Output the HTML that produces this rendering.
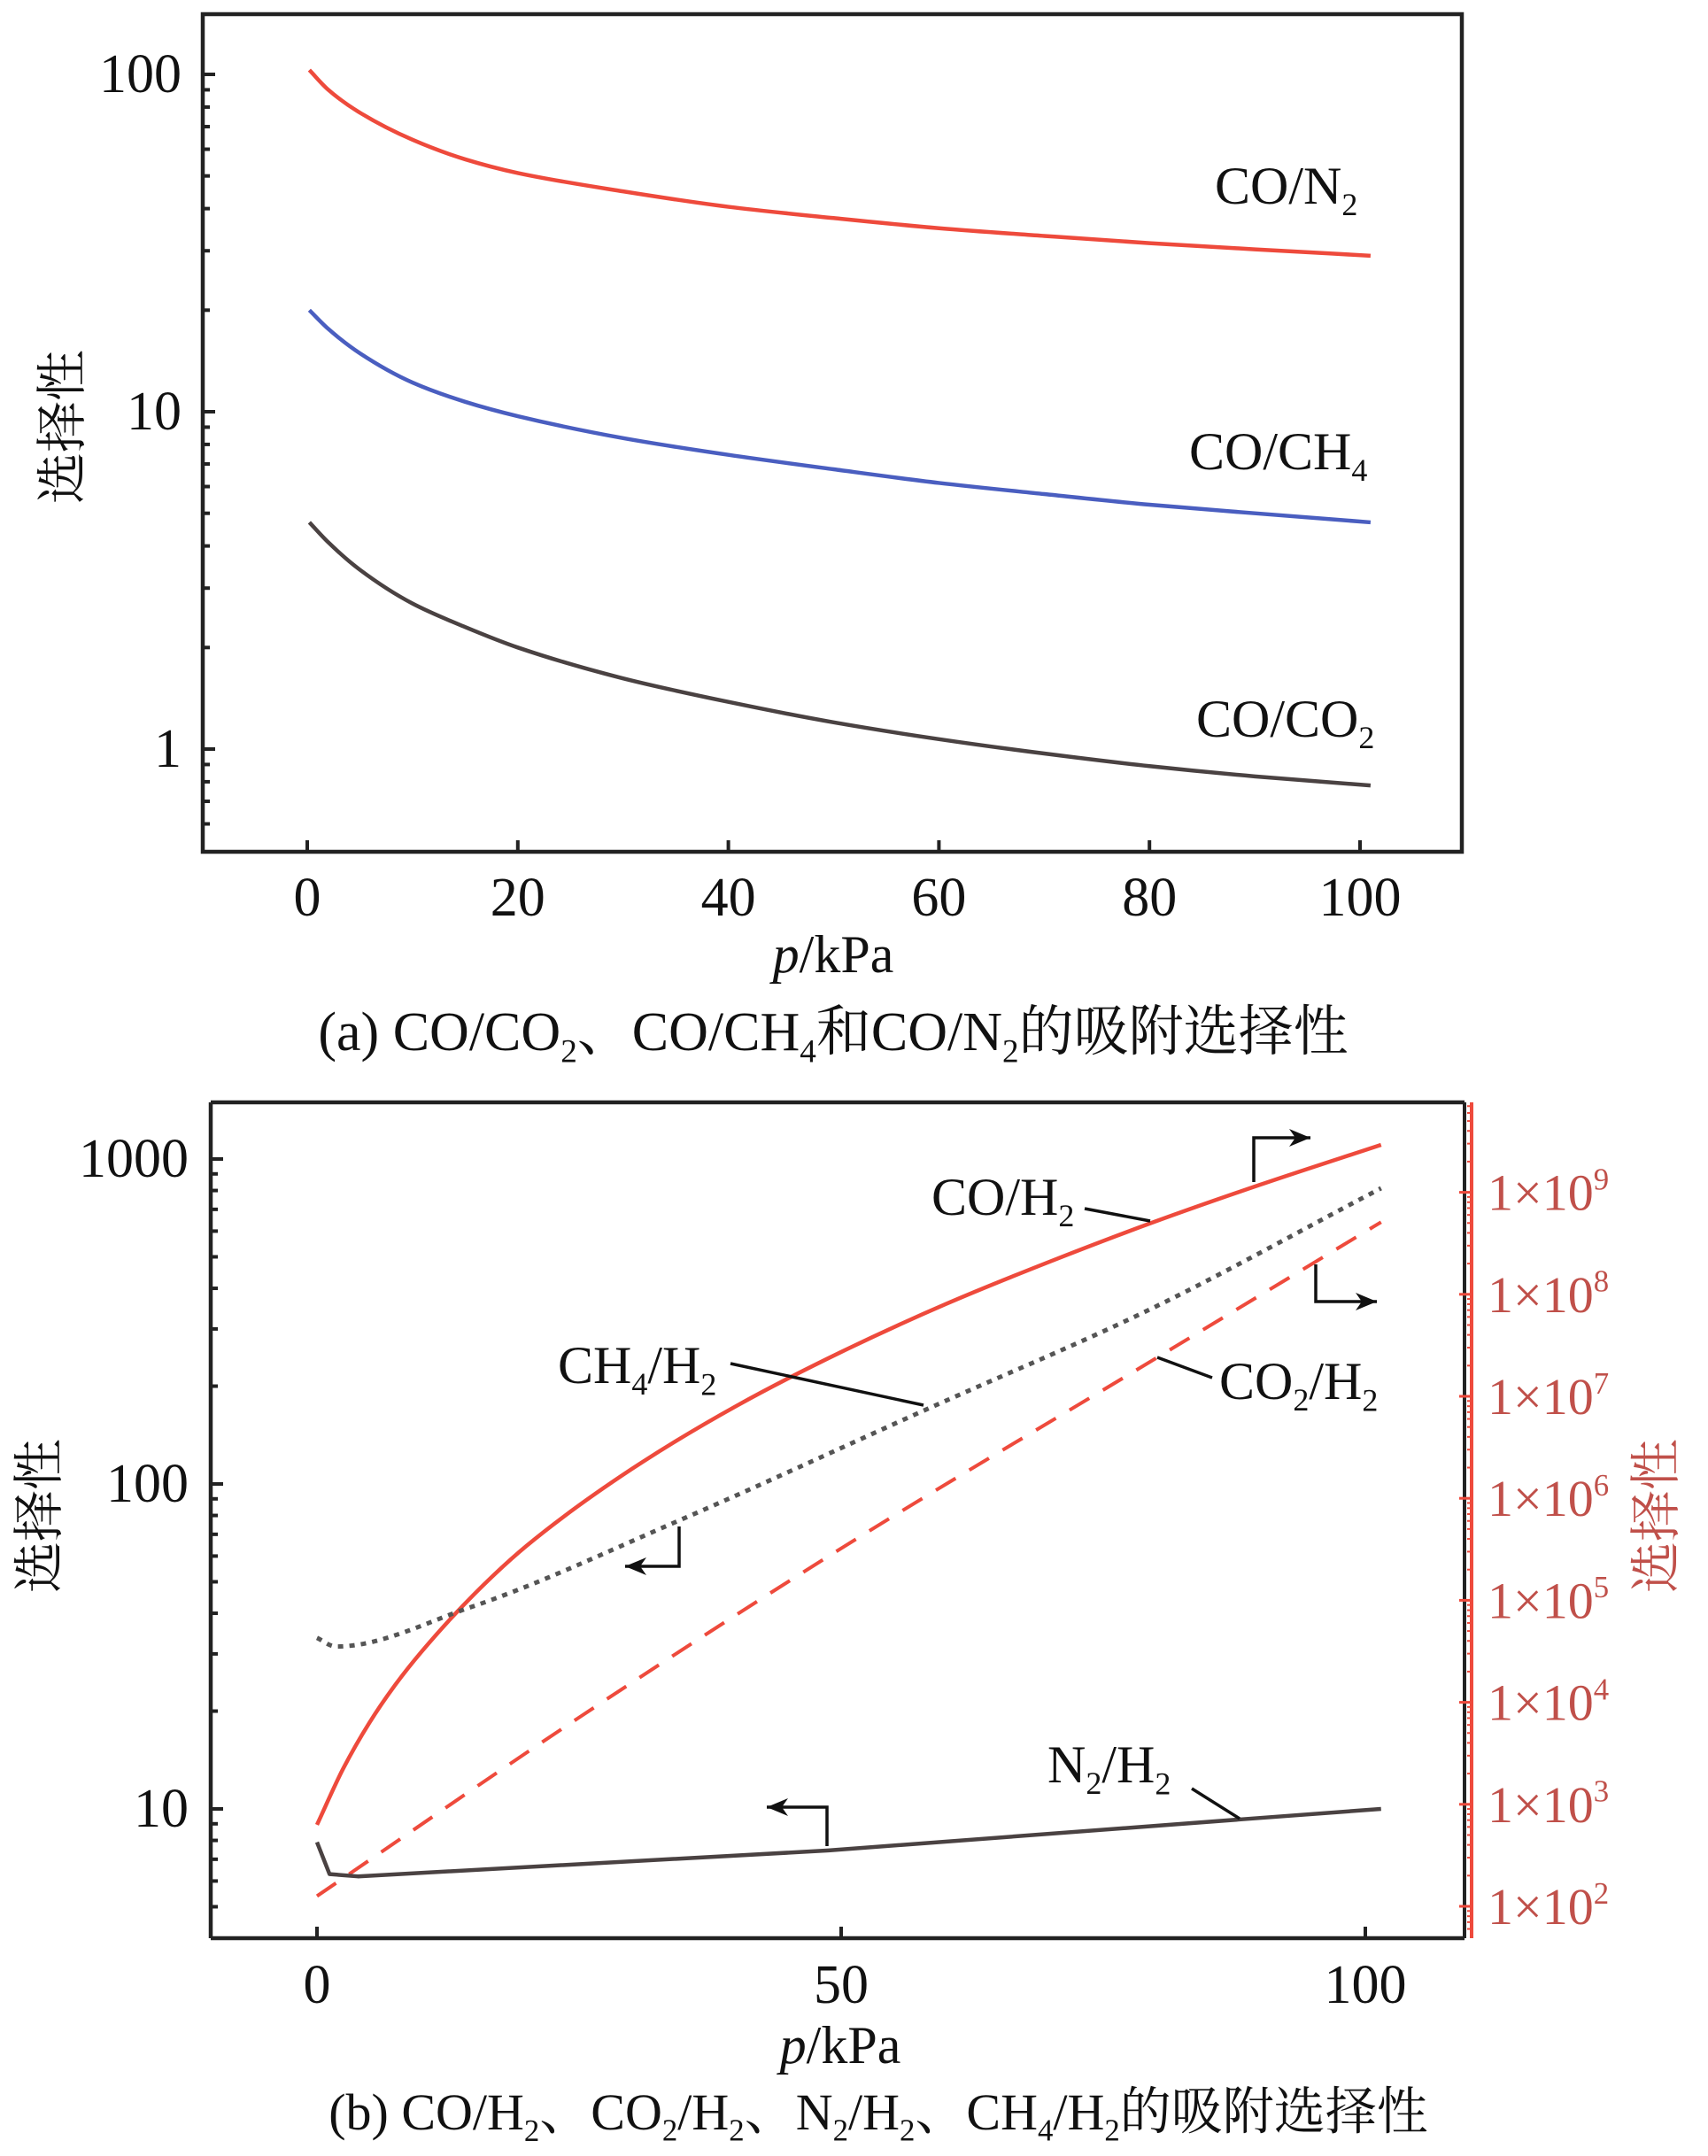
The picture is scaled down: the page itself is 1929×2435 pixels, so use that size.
<!DOCTYPE html>
<html><head><meta charset="utf-8"><style>
html,body{margin:0;padding:0;background:#fff}
svg{display:block}
text{font-family:"Liberation Serif","Noto Serif CJK SC","Noto Sans CJK SC",serif}
</style></head><body>
<svg id="chart" width="1929" height="2435" viewBox="0 0 1929 2435">
<g id="gA"></g>
<g id="gB"></g>
</svg>
<script>
// ---------- Panel (a) data ----------
const aX = [0.2, 2, 5, 10, 15, 20, 30, 40, 50, 60, 70, 80, 90, 101];
const coN2 = [103, 90, 77, 64, 56, 51, 45, 40.5, 37.5, 35, 33.2, 31.6, 30.3, 29];
const coCH4 = [20, 17.6, 14.9, 12.2, 10.7, 9.7, 8.35, 7.45, 6.75, 6.15, 5.7, 5.3, 5.0, 4.7];
const coCO2 = [4.7, 4.1, 3.4, 2.7, 2.3, 2.0, 1.62, 1.38, 1.2, 1.07, 0.97, 0.89, 0.83, 0.78];
const aXTicks = [0, 20, 40, 60, 80, 100];
const aYTicks = [1, 10, 100];

// ---------- Panel (b) data ----------
const coH2X = [0, 2.5, 5, 7.5, 10, 15, 20, 30, 40, 50, 60, 70, 80, 90, 101.5];
const coH2 = [6.3e2, 2.24e3, 6.31e3, 1.5e4, 3.16e4, 1.15e5, 3.43e5, 1.93e6, 8.04e6, 2.72e7, 8.04e7, 2.11e8, 5.19e8, 1.19e9, 2.92e9];
const co2H2X = [0, 25, 49.5, 80.7, 101.5];
const co2H2 = [1.26e2, 7.1e3, 3.0e5, 2.6e7, 5.1e8];
const ch4H2X = [0, 1.8, 14.6, 34.7, 58.2, 79, 101.5];
const ch4H2 = [33.6, 31.6, 41.7, 77.6, 170, 339, 813];
const n2H2X = [0, 1.2, 3.9, 48.8, 88.4, 101.5];
const n2H2 = [7.9, 6.3, 6.2, 7.45, 9.3, 10];
const bXTicks = [0, 50, 100];
const bYTicks = [10, 100, 1000];
const bRTicks = [2, 3, 4, 5, 6, 7, 8, 9];

const NS = "http://www.w3.org/2000/svg";
function mk(parent, tag, attrs, name, txt) {
  const e = document.createElementNS(NS, tag);
  for (const k in attrs) e.setAttribute(k, attrs[k]);
  
  
  if (txt !== undefined) e.textContent = txt;
  parent.appendChild(e);
  return e;
}
function pathFrom(xs, ys, sx, sy) {
  const P = xs.map((x, i) => [sx(x), sy(ys[i])]);
  const n = P.length;
  const d = [], m = new Array(n);
  for (let i = 0; i < n - 1; i++) d.push((P[i + 1][1] - P[i][1]) / (P[i + 1][0] - P[i][0]));
  m[0] = d[0]; m[n - 1] = d[n - 2];
  for (let i = 1; i < n - 1; i++) {
    if (d[i - 1] * d[i] <= 0) m[i] = 0;
    else { const h0 = P[i][0] - P[i - 1][0], h1 = P[i + 1][0] - P[i][0];
      m[i] = 3 * (h0 + h1) / ((2 * h1 + h0) / d[i - 1] + (h1 + 2 * h0) / d[i]); }
  }
  let s = `M${P[0][0]},${P[0][1]}`;
  for (let i = 0; i < n - 1; i++) {
    const h = P[i + 1][0] - P[i][0];
    s += ` C${P[i][0] + h / 3},${P[i][1] + m[i] * h / 3} ${P[i + 1][0] - h / 3},${P[i + 1][1] - m[i + 1] * h / 3} ${P[i + 1][0]},${P[i + 1][1]}`;
  }
  return s;
}
function linePath(xs, ys, sx, sy) {
  return xs.map((x, i) => (i ? 'L' : 'M') + sx(x) + ',' + sy(ys[i])).join(' ');
}
function sub(parent, x, y, parts, size, name, anchor, fill) {
  const t = mk(parent, 'text', {x: x, y: y, 'font-size': size, 'text-anchor': anchor || 'start'}, name);
  t.style.fill = fill || '#111';
  parts.forEach(pt => {
    const s = document.createElementNS(NS, 'tspan');
    if (pt[1] === 'sub') { s.setAttribute('font-size', size * 0.6); s.setAttribute('dy', size * 0.22); }
    else if (pt[1] === 'sup') { s.setAttribute('font-size', size * 0.6); s.setAttribute('dy', -size * 0.4); }
    else if (pt[1] === 'back') { s.setAttribute('dy', pt[2]); }
    else if (pt[1] === 'it') { s.setAttribute('font-style', 'italic'); }
    s.textContent = pt[0];
    t.appendChild(s);
  });
  return t;
}
const RED = '#ee4a3c', BLUE = '#4a5ec0', DARK = '#4a4242', TRED = '#c0504a';

// ===== Panel A =====
(function () {
  const g = document.getElementById('gA');
  const L = 229, R = 1651, T = 16, B = 962;
  const sx = v => 347 + (v - 0) * (1536 - 347) / 100;
  const sy = v => 846 - Math.log10(v) * 381;
  mk(g, 'rect', {x: L, y: T, width: R - L, height: B - T, fill: 'none', stroke: '#222', 'stroke-width': 4.5}, 'plot-frame-a');
  aXTicks.forEach(v => {
    mk(g, 'line', {x1: sx(v), x2: sx(v), y1: B, y2: B - 13, stroke: '#222', 'stroke-width': 4}, 'x-tick-a');
    mk(g, 'text', {x: sx(v), y: 1034, 'font-size': 62, 'text-anchor': 'middle', fill: '#111'}, 'x-tick-label-a', String(v));
  });
  for (let d = -1; d <= 2; d++) for (let m = 1; m <= 9; m++) {
    const v = m * Math.pow(10, d), y = sy(v);
    if (y < T + 2 || y > B - 2) continue;
    mk(g, 'line', {x1: L, x2: L + (m === 1 ? 14 : 8), y1: y, y2: y, stroke: '#222', 'stroke-width': 4}, 'y-tick-a');
  }
  aYTicks.forEach(v => mk(g, 'text', {x: 205, y: sy(v) + 20, 'font-size': 62, 'text-anchor': 'end', fill: '#111'}, 'y-tick-label-a', String(v)));
  mk(g, 'path', {d: pathFrom(aX, coN2, sx, sy), fill: 'none', stroke: RED, 'stroke-width': 4.5}, 'co-n2-line');
  mk(g, 'path', {d: pathFrom(aX, coCH4, sx, sy), fill: 'none', stroke: BLUE, 'stroke-width': 4.5}, 'co-ch4-line');
  mk(g, 'path', {d: pathFrom(aX, coCO2, sx, sy), fill: 'none', stroke: DARK, 'stroke-width': 4.5}, 'co-co2-line');
  sub(g, 1372, 230, [['CO/N'], ['2', 'sub']], 60, 'co-n2-label');
  sub(g, 1343, 530, [['CO/CH'], ['4', 'sub']], 60, 'co-ch4-label');
  sub(g, 1351, 832, [['CO/CO'], ['2', 'sub']], 60, 'co-co2-label');
  mk(g, 'text', {x: 90, y: 482, 'font-size': 58, 'text-anchor': 'middle', fill: '#111', transform: 'rotate(-90 90 482)'}, 'y-axis-title-a', '选择性');
  sub(g, 941, 1098, [['p', 'it'], ['/kPa']], 60, 'x-axis-title-a', 'middle');
  sub(g, 941, 1186, [['(a) CO/CO'], ['2', 'sub'], ['、CO/CH', 'back', -13.6], ['4', 'sub'], ['和CO/N', 'back', -13.6], ['2', 'sub'], ['的吸附选择性', 'back', -13.6]], 62, 'caption-a', 'middle');
})();

// ===== Panel B =====
(function () {
  const g = document.getElementById('gB');
  const L = 238, R = 1654, T = 1245, B = 2189;
  const sx = v => 358 + v * (1542 - 358) / 100;
  const sy = v => 2043 - (Math.log10(v) - 1) * 367;
  const syR = v => 2153 - (Math.log10(v) - 2) * 115.2;
  mk(g, 'line', {x1: L, x2: R, y1: T, y2: T, stroke: '#222', 'stroke-width': 4.5}, 'frame-top-b');
  mk(g, 'line', {x1: L, x2: R, y1: B, y2: B, stroke: '#222', 'stroke-width': 4.5}, 'frame-bottom-b');
  mk(g, 'line', {x1: L, x2: L, y1: T, y2: B, stroke: '#222', 'stroke-width': 4.5}, 'left-axis-b');
  mk(g, 'line', {x1: R, x2: R, y1: T, y2: B, stroke: '#222', 'stroke-width': 4}, 'frame-right-b');
  mk(g, 'line', {x1: 1662, x2: 1662, y1: T, y2: B, stroke: RED, 'stroke-width': 4}, 'right-axis-b');
  bXTicks.forEach(v => {
    mk(g, 'line', {x1: sx(v), x2: sx(v), y1: B, y2: B - 13, stroke: '#222', 'stroke-width': 4}, 'x-tick-b');
    mk(g, 'text', {x: sx(v), y: 2262, 'font-size': 62, 'text-anchor': 'middle', fill: '#111'}, 'x-tick-label-b', String(v));
  });
  for (let d = 0; d <= 3; d++) for (let m = 1; m <= 9; m++) {
    const v = m * Math.pow(10, d), y = sy(v);
    if (y < T + 2 || y > B - 2) continue;
    mk(g, 'line', {x1: L, x2: L + (m === 1 ? 14 : 8), y1: y, y2: y, stroke: '#222', 'stroke-width': 4}, 'y-tick-b');
  }
  bYTicks.forEach(v => mk(g, 'text', {x: 213, y: sy(v) + 20, 'font-size': 62, 'text-anchor': 'end', fill: '#111'}, 'y-tick-label-b', String(v)));
  for (let d = 1; d <= 9; d++) for (let m = 1; m <= 9; m++) {
    const y = syR(m * Math.pow(10, d));
    if (y < T + 2 || y > B - 2) continue;
    mk(g, 'line', {x1: 1662, x2: 1662 - (m === 1 ? 14 : 5), y1: y, y2: y, stroke: RED, 'stroke-width': m === 1 ? 3 : 2}, 'right-tick-b');
  }
  bRTicks.forEach(e => sub(g, 1680, syR(Math.pow(10, e)) + 20, [['1×10'], [String(e), 'sup']], 58, 'right-tick-label-b', 'start', TRED));
  mk(g, 'path', {d: pathFrom(coH2X, coH2, sx, syR), fill: 'none', stroke: RED, 'stroke-width': 4.5}, 'co-h2-line');
  mk(g, 'path', {d: pathFrom(co2H2X, co2H2, sx, syR), fill: 'none', stroke: RED, 'stroke-width': 4, 'stroke-dasharray': '26 18'}, 'co2-h2-line');
  mk(g, 'path', {d: pathFrom(ch4H2X, ch4H2, sx, sy), fill: 'none', stroke: '#555', 'stroke-width': 5, 'stroke-dasharray': '6 7'}, 'ch4-h2-line');
  mk(g, 'path', {d: linePath(n2H2X, n2H2, sx, sy), fill: 'none', stroke: DARK, 'stroke-width': 4.5, 'stroke-linejoin': 'round'}, 'n2-h2-line');
  sub(g, 1052, 1372, [['CO/H'], ['2', 'sub']], 60, 'co-h2-label');
  mk(g, 'line', {x1: 1225, y1: 1365, x2: 1299, y2: 1379, stroke: '#111', 'stroke-width': 3.5}, 'co-h2-leader');
  sub(g, 630, 1562, [['CH'], ['4', 'sub'], ['/H', 'back', -13], ['2', 'sub']], 60, 'ch4-h2-label');
  mk(g, 'line', {x1: 825, y1: 1540, x2: 1043, y2: 1587, stroke: '#111', 'stroke-width': 3.5}, 'ch4-h2-leader');
  sub(g, 1377, 1580, [['CO'], ['2', 'sub'], ['/H', 'back', -13], ['2', 'sub']], 60, 'co2-h2-label');
  mk(g, 'line', {x1: 1307, y1: 1533, x2: 1369, y2: 1556, stroke: '#111', 'stroke-width': 3.5}, 'co2-h2-leader');
  sub(g, 1183, 2013, [['N'], ['2', 'sub'], ['/H', 'back', -13], ['2', 'sub']], 60, 'n2-h2-label');
  mk(g, 'line', {x1: 1346, y1: 2020, x2: 1400, y2: 2054, stroke: '#111', 'stroke-width': 3.5}, 'n2-h2-leader');
  const arrows = [
    [[1416, 1335], [1416, 1285], [1480, 1285], 'co-h2-axis-arrow'],
    [[1486, 1428], [1486, 1470], [1555, 1470], 'co2-h2-axis-arrow'],
    [[767, 1724], [767, 1769], [706, 1769], 'ch4-h2-axis-arrow'],
    [[934, 2085], [934, 2041], [866, 2041], 'n2-h2-axis-arrow']];
  arrows.forEach(a => {
    mk(g, 'polyline', {points: `${a[0]} ${a[1]} ${a[2]}`, fill: 'none', stroke: '#111', 'stroke-width': 3.5}, a[3]);
    const dir = a[2][0] > a[1][0] ? 1 : -1, x = a[2][0], y = a[2][1];
    mk(g, 'polygon', {points: `${x},${y} ${x - dir * 24},${y - 10} ${x - dir * 17},${y} ${x - dir * 24},${y + 10}`, fill: '#111'}, a[3] + '-head');
  });
  mk(g, 'text', {x: 64, y: 1712, 'font-size': 58, 'text-anchor': 'middle', fill: '#111', transform: 'rotate(-90 64 1712)'}, 'y-axis-title-left-b', '选择性');
  const rt = mk(g, 'text', {x: 1890, y: 1712, 'font-size': 58, 'text-anchor': 'middle', transform: 'rotate(-90 1890 1712)'}, 'y-axis-title-right-b', '选择性');
  rt.style.fill = TRED;
  sub(g, 949, 2330, [['p', 'it'], ['/kPa']], 60, 'x-axis-title-b', 'middle');
  sub(g, 992, 2405, [['(b) CO/H'], ['2', 'sub'], ['、CO', 'back', -12.8], ['2', 'sub'], ['/H', 'back', -12.8], ['2', 'sub'], ['、N', 'back', -12.8], ['2', 'sub'], ['/H', 'back', -12.8], ['2', 'sub'], ['、CH', 'back', -12.8], ['4', 'sub'], ['/H', 'back', -12.8], ['2', 'sub'], ['的吸附选择性', 'back', -12.8]], 58, 'caption-b', 'middle');
})();
</script>
</body></html>
